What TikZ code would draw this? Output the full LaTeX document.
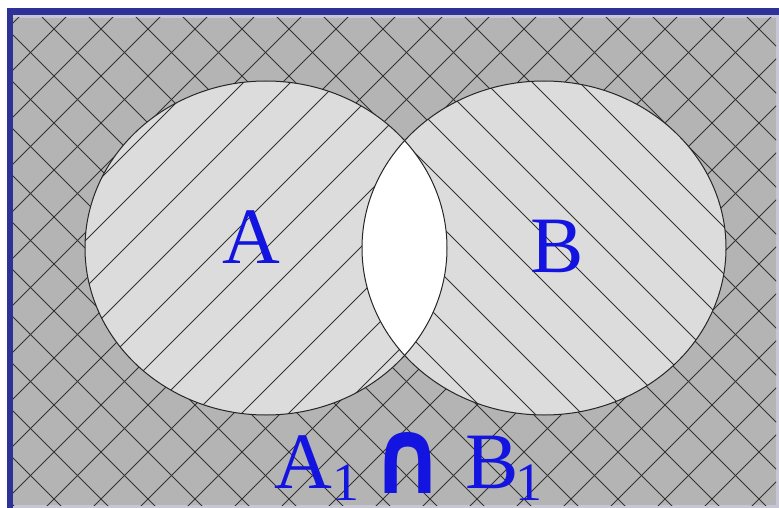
\documentclass[tikz,border=0pt]{standalone}
\usepackage{fontspec}
\usepackage{graphicx}
\setmainfont{Liberation Serif}
\newfontfamily\capfont{DejaVu Sans}
\definecolor{bggray}{HTML}{B4B4B4}
\definecolor{ellgray}{HTML}{DCDCDC}
\definecolor{lavender}{HTML}{C6C6D6}
\definecolor{blueborder}{HTML}{2E3196}
\definecolor{txtblue}{RGB}{20,20,225}
\tikzset{
  hatchline/.style={draw=black!80,line width=0.9pt},
  outline/.style={draw=black!85,line width=1pt},
  bigtext/.style={text=txtblue,inner sep=0pt,font=\fontsize{80}{90}\selectfont},
}
\begin{document}
\begin{tikzpicture}[x=1pt,y=-1pt]
\useasboundingbox (0,0) rectangle (779,508);
\fill[white] (0,0) rectangle (779,508);
\fill[lavender] (13,15) rectangle (779,508);
\fill[bggray] (13,18) rectangle (776,505);
% cross hatch of the outside
\begin{scope}
  \clip (13,18) rectangle (776,505);
  \foreach \k in {-2,...,26} {\draw[hatchline] ({83+47*\k},0) -- ({83+47*\k-600},600);}
  \foreach \k in {-11,...,17} {\draw[hatchline] ({-22+47*\k},0) -- ({-22+47*\k+600},600);}
\end{scope}
\fill[blueborder] (7,8) rectangle (779,15);
\fill[blueborder] (7,8) rectangle (13,508);
% ellipses
\fill[ellgray] (266,248) ellipse [x radius=181,y radius=167];
\fill[ellgray] (544,248) ellipse [x radius=182,y radius=167];
\begin{scope}
  \clip (266,248) ellipse [x radius=181,y radius=167];
  \foreach \k in {-7,...,10} {\draw[hatchline] ({420+47*\k},0) -- ({420+47*\k-600},600);}
\end{scope}
\begin{scope}
  \clip (544,248) ellipse [x radius=182,y radius=167];
  \foreach \k in {-8,...,9} {\draw[hatchline] ({262+47*\k},0) -- ({262+47*\k+600},600);}
\end{scope}
\begin{scope}
  \clip (266,248) ellipse [x radius=181,y radius=167];
  \fill[white] (544,248) ellipse [x radius=182,y radius=167];
\end{scope}
\draw[outline] (266,248) ellipse [x radius=181,y radius=167];
\draw[outline] (544,248) ellipse [x radius=182,y radius=167];
% labels
\node[bigtext,anchor=base] (labA) at (251,263) {A};
\node[bigtext,anchor=base] (labB) at (557,272) {B};
\node[bigtext,anchor=base west] (labAB) at (274,488)
  {A\hspace{1pt}\raisebox{-12pt}{\fontsize{54}{60}\selectfont 1}\hspace{12pt}\raisebox{-5pt}{\resizebox{73pt}{61pt}{\capfont\bfseries ∩}}\hspace{21pt}B\hspace{-4pt}\raisebox{-12pt}{\fontsize{54}{60}\selectfont 1}};
\end{tikzpicture}
\end{document}
